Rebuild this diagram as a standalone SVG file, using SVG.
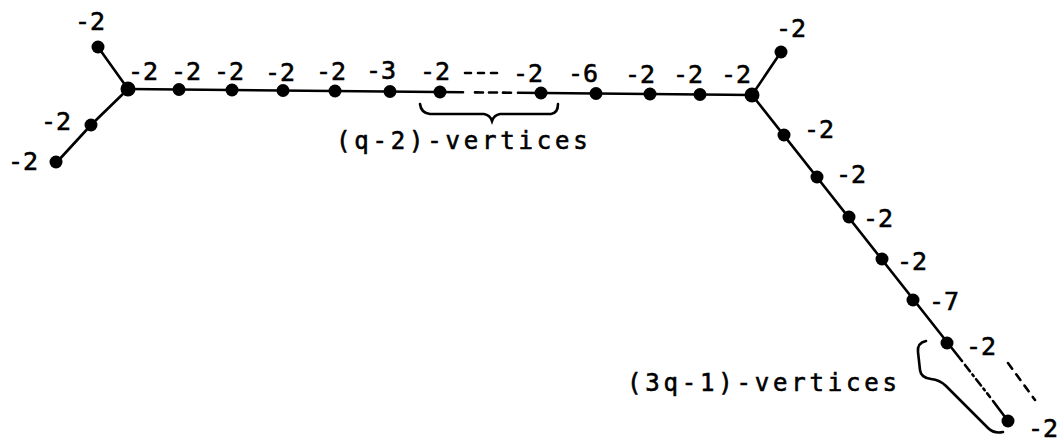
<svg xmlns="http://www.w3.org/2000/svg" width="1062" height="441" viewBox="0 0 1062 441">
<style>
.e{stroke:#000;stroke-width:2.6;fill:none;stroke-linecap:round}
.n{fill:#000}
.l{font-family:"DejaVu Sans Mono","Liberation Mono",monospace;font-size:25px;fill:#000;stroke:#000;stroke-width:0.6}
.t{font-family:"DejaVu Sans Mono","Liberation Mono",monospace;font-size:24px;fill:#000;stroke:#000;stroke-width:0.6;letter-spacing:3.8px}
</style>
<rect width="1062" height="441" fill="#fff"/>
<g id="connectors">
<line class="e" x1="98" y1="47" x2="128" y2="89"/>
<polyline class="e" points="128,89 91,125 57,162"/>
<line class="e" x1="128" y1="89" x2="463" y2="92.2"/>
<line class="e" x1="475" y1="92.4" x2="513" y2="92.7" stroke-dasharray="8 6" stroke-linecap="butt"/>
<line class="e" x1="518" y1="92.8" x2="752" y2="95"/>
<line class="e" x1="752" y1="95" x2="781" y2="52"/>
<line class="e" x1="752" y1="95" x2="962" y2="361"/>
<line class="e" x1="965" y1="365" x2="990" y2="397" stroke-dasharray="8 4 2 4" stroke-linecap="butt"/>
<line class="e" x1="993" y1="401" x2="1008" y2="421"/>
<line class="e" x1="1008" y1="363" x2="1035" y2="400" stroke-dasharray="7 7" stroke-linecap="butt"/>
<line class="e" x1="465" y1="73" x2="500" y2="73" stroke-dasharray="6 7" stroke-linecap="butt"/>
<path class="e" d="M420,104 Q421,113 430,114 L484,114 Q490,115 492,121 Q494,115 500,114 L551,114 Q558,113 558,104"/>
<path class="e" d="M926,341 Q917,343 918,352 L920,370 Q921,378 931,379 Q940,380 946,386 L988,428 Q994,434 1003,432"/>
</g>
<g id="nodes">
<circle class="n" cx="98" cy="47" r="6.5"/>
<circle class="n" cx="128" cy="89" r="7.5"/>
<circle class="n" cx="91" cy="125" r="6.5"/>
<circle class="n" cx="56" cy="162" r="6.5"/>
<circle class="n" cx="179" cy="89.5" r="6.5"/>
<circle class="n" cx="232" cy="90" r="6.5"/>
<circle class="n" cx="283" cy="90.5" r="6.5"/>
<circle class="n" cx="335" cy="91" r="6.5"/>
<circle class="n" cx="390" cy="91.5" r="6.5"/>
<circle class="n" cx="440" cy="92" r="6.5"/>
<circle class="n" cx="541" cy="93" r="6.5"/>
<circle class="n" cx="596" cy="93.5" r="6.5"/>
<circle class="n" cx="650" cy="94" r="6.5"/>
<circle class="n" cx="700" cy="94.5" r="6.5"/>
<circle class="n" cx="752" cy="95" r="7.5"/>
<circle class="n" cx="781" cy="52" r="6.5"/>
<circle class="n" cx="784" cy="135" r="6.5"/>
<circle class="n" cx="817" cy="177" r="6.5"/>
<circle class="n" cx="849" cy="217" r="6.5"/>
<circle class="n" cx="882" cy="259" r="6.5"/>
<circle class="n" cx="913" cy="300" r="6.5"/>
<circle class="n" cx="947" cy="343" r="6.5"/>
<circle class="n" cx="1008" cy="421" r="6.5"/>
</g>
<g id="labels">
<text class="l" x="75" y="30">-2</text>
<text class="l" x="41" y="130">-2</text>
<text class="l" x="8" y="170">-2</text>
<text class="l" x="128" y="80">-2</text>
<text class="l" x="171" y="80">-2</text>
<text class="l" x="214" y="80">-2</text>
<text class="l" x="265" y="81">-2</text>
<text class="l" x="316" y="80">-2</text>
<text class="l" x="366" y="79">-3</text>
<text class="l" x="420" y="80">-2</text>
<text class="l" x="513" y="82">-2</text>
<text class="l" x="568" y="82">-6</text>
<text class="l" x="625" y="83">-2</text>
<text class="l" x="673" y="83">-2</text>
<text class="l" x="721" y="83">-2</text>
<text class="l" x="776" y="37">-2</text>
<text class="l" x="804" y="138">-2</text>
<text class="l" x="836" y="183">-2</text>
<text class="l" x="863" y="227">-2</text>
<text class="l" x="897" y="270">-2</text>
<text class="l" x="929" y="310">-7</text>
<text class="l" x="966" y="355">-2</text>
<text class="l" x="1028" y="437">-2</text>
<text class="t" x="336" y="149">(q-2)-vertices</text>
<text class="t" x="627" y="391">(3q-1)-vertices</text>
</g>
</svg>
